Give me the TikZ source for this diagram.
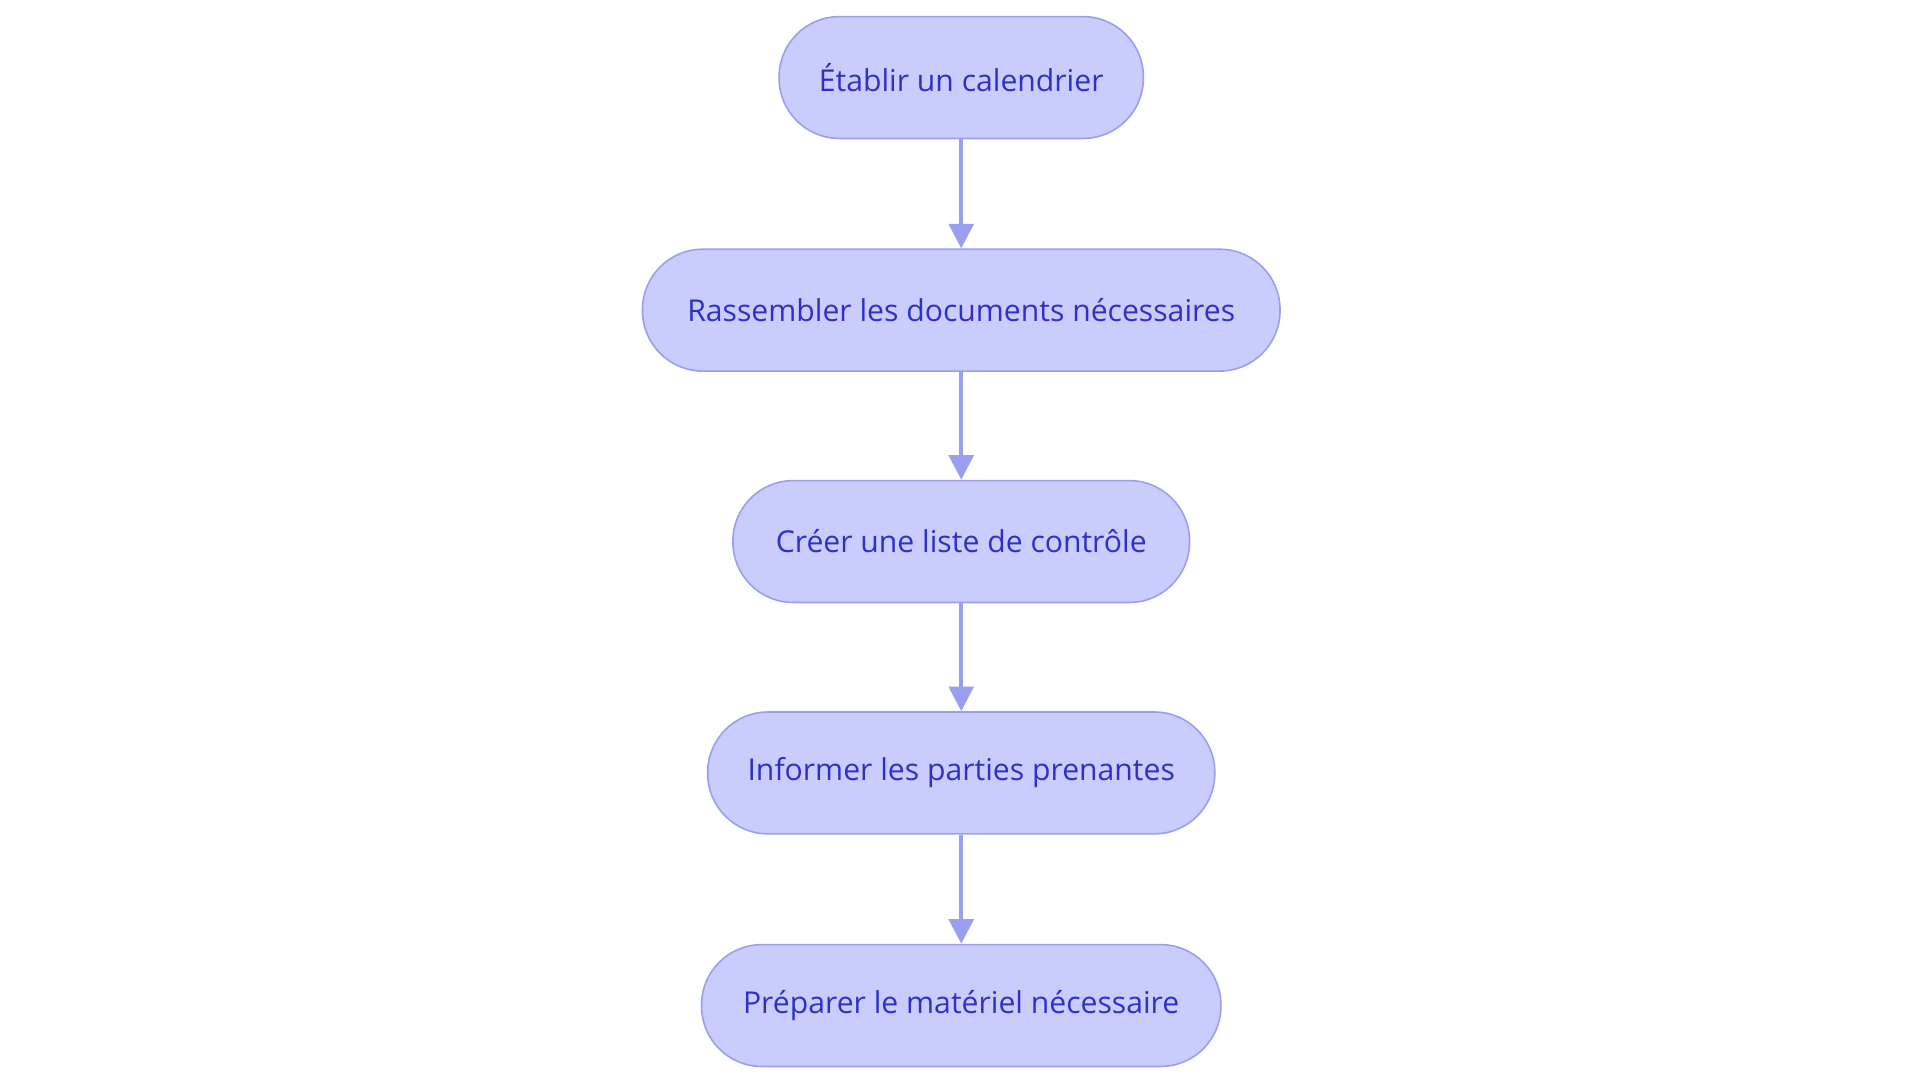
\documentclass[tikz,border=0pt]{standalone}
\usepackage{fontspec}
\setmainfont{Open Sans}
\usetikzlibrary{arrows.meta}
\definecolor{nfill}{HTML}{CACCFE}
\definecolor{nline}{HTML}{9A9EEE}
\definecolor{ntext}{HTML}{2E31C8}
\begin{document}
\begin{tikzpicture}[x=1pt,y=-1pt,
  box/.style={draw=nline,line width=1.3pt,fill=nfill,rounded corners=49pt,minimum height=99pt,text=ntext,font=\fontsize{24.5}{28}\selectfont,inner sep=0pt},
  arr/.style={draw=nline,line width=3pt,-{Triangle[length=20pt,width=20pt]}}]
\useasboundingbox (3,0) rectangle (1563,880);
\node[box,minimum width=296pt] (a) at (784,63) {Établir un calendrier};
\node[box,minimum width=518pt] (b) at (784,252) {Rassembler les documents nécessaires};
\node[box,minimum width=371pt] (c) at (784,440) {Créer une liste de contrôle};
\node[box,minimum width=412pt] (d) at (784,628) {Informer les parties prenantes};
\node[box,minimum width=422pt] (e) at (784,817) {Préparer le matériel nécessaire};
\draw[arr] (a) -- (b);
\draw[arr] (b) -- (c);
\draw[arr] (c) -- (d);
\draw[arr] (d) -- (e);
\end{tikzpicture}
\end{document}
